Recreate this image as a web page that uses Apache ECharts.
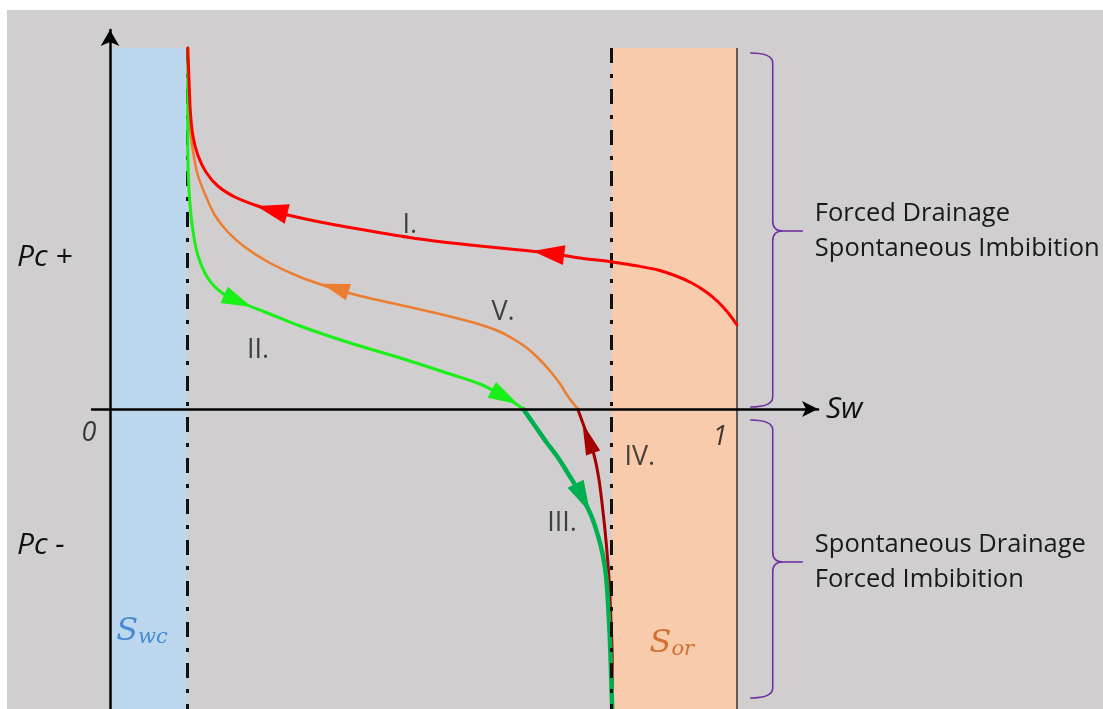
<!DOCTYPE html>
<html>
<head>
<meta charset="utf-8">
<script src="https://cdn.jsdelivr.net/npm/echarts@6/dist/echarts.min.js"></script>
<style>
  html, body { margin: 0; padding: 0; background: #fff; }
  #chart { width: 1103px; height: 709px; }
</style>
</head>
<body>
<div id="chart"></div>
<script>
// Capillary pressure Pc against water saturation Sw: five saturation paths.
// Each path is listed in its direction of travel, as [Sw, Pc] pairs.
const pathI = [[1.0,0.84],[0.986,0.96],[0.970,1.07],[0.951,1.17],[0.928,1.26],[0.903,1.33],[0.874,1.39],[0.842,1.43],[0.801,1.47],[0.750,1.51],[0.700,1.56],[0.654,1.59],[0.574,1.64],[0.494,1.70],[0.415,1.78],[0.335,1.87],[0.271,1.96],[0.231,2.04],[0.199,2.12],[0.172,2.23],[0.153,2.37],[0.140,2.54],[0.132,2.74],[0.128,2.99],[0.126,3.29],[0.124,3.61]];
const pathII = [[0.124,3.61],[0.124,3.09],[0.124,2.59],[0.126,2.19],[0.131,1.84],[0.140,1.54],[0.156,1.31],[0.179,1.16],[0.207,1.07],[0.247,0.97],[0.303,0.83],[0.383,0.66],[0.463,0.51],[0.542,0.35],[0.590,0.25],[0.622,0.15],[0.643,0.07],[0.659,0]];
const pathIII = [[0.659,0],[0.678,-0.17],[0.697,-0.34],[0.715,-0.49],[0.730,-0.64],[0.745,-0.79],[0.758,-0.94],[0.769,-1.09],[0.778,-1.26],[0.786,-1.46],[0.791,-1.66],[0.794,-1.91],[0.797,-2.26],[0.799,-2.61],[0.801,-3.0]];
const pathIV = [[0.801,-2.91],[0.801,-2.51],[0.799,-2.11],[0.796,-1.71],[0.791,-1.31],[0.786,-1.01],[0.780,-0.71],[0.772,-0.46],[0.761,-0.26],[0.746,0]];
const pathV = [[0.746,0],[0.730,0.13],[0.718,0.25],[0.702,0.38],[0.686,0.49],[0.667,0.60],[0.646,0.69],[0.619,0.78],[0.582,0.86],[0.526,0.95],[0.463,1.04],[0.399,1.13],[0.359,1.20],[0.303,1.32],[0.255,1.46],[0.215,1.62],[0.188,1.77],[0.167,1.94],[0.152,2.14],[0.140,2.34],[0.132,2.59],[0.128,2.79],[0.124,2.94]];

// Where the direction arrows sit on each path
const arrowsI = [[0.258,1.99],[0.699,1.56]];
const arrowsII = [[0.204,1.08],[0.630,0.12]];
const arrowsIII = [[0.754,-0.89]];
const arrowsIV = [[0.762,-0.29]];
const arrowsV = [[0.359,1.21]];

// Path names and where they are written
const pathNames = ['I.', 'II.', 'III.', 'IV.', 'V.'];
const pathNamePos = [[0.478,1.84],[0.236,0.59],[0.721,-1.14],[0.845,-0.48],[0.627,0.97]];

// End-point saturations and the extent of the diagram
const SWC = 0.123;      // connate water saturation
const SOR_EDGE = 0.80;  // 1 - Sor
const PC_TOP = 3.61;
const PC_BOTTOM = -3.0;

// Axis tick labels
const tickValues = [0, 1];
const tickLabels = ['0', '1'];

// Side braces: [hook, spine, tip] along Sw; [top, middle, bottom] along Pc
const braceSw = [1.021, 1.057, 1.105];
const braceUpper = [3.56, 1.78, 0.02];
const braceLower = [-0.11, -1.53, -2.89];
const braceTexts = ['Forced Drainage\nSpontaneous Imbibition', 'Spontaneous Drainage\nForced Imbibition'];

const FONT = '"Open Sans", "DejaVu Sans", sans-serif';
const TEXT = '#1a1a1a';

const chart = echarts.init(document.getElementById('chart'), null, { renderer: 'canvas' });

function pathSeries(name, data, color, width, z) {
  return {
    name, type: 'line', data, smooth: 0.3, symbol: 'none', z,
    lineStyle: { color, width, cap: 'round', join: 'round' },
    silent: true, animation: false
  };
}

function arrowSeries(name, data, color, size) {
  return {
    name, type: 'scatter', data: data.map(p => ({ value: p })),
    symbol: 'triangle', symbolSize: size, z: 10,
    itemStyle: { color, opacity: 1 }, silent: true, animation: false
  };
}

const background = [
  { id: 'bg', type: 'rect', z: -100, silent: true, shape: { x: 7, y: 10, width: 1096, height: 699 }, style: { fill: '#d0cece' } },
  { id: 'pcPlus', type: 'text', silent: true, x: 17, y: 257, style: { text: 'Pc +', font: 'italic 30px ' + FONT, fill: '#111', verticalAlign: 'middle' } },
  { id: 'pcMinus', type: 'text', silent: true, x: 17, y: 545, style: { text: 'Pc -', font: 'italic 30px ' + FONT, fill: '#111', verticalAlign: 'middle' } }
];

const option = {
  backgroundColor: '#ffffff',
  animation: false,
  grid: { left: 92, right: 285, top: 30, bottom: 0, containLabel: false },
  xAxis: {
    type: 'value', min: -0.0287, max: 1.1292, z: 20,
    name: 'Sw', nameLocation: 'end', nameGap: 8,
    nameTextStyle: { fontSize: 30, fontStyle: 'italic', color: '#111', fontFamily: FONT },
    axisLine: { onZero: true, symbol: ['none', 'arrow'], symbolSize: [12, 16], lineStyle: { color: '#000', width: 2.5 } },
    axisTick: { show: false }, axisLabel: { show: false }, splitLine: { show: false }
  },
  yAxis: {
    type: 'value', min: -3.0, max: 3.79, z: 20,
    axisLine: { onZero: true, symbol: ['none', 'arrow'], symbolSize: [14, 16], lineStyle: { color: '#000', width: 2.5 } },
    axisTick: { show: false }, axisLabel: { show: false }, splitLine: { show: false }
  },
  graphic: background,
  series: [
    {
      name: 'zones', type: 'scatter', data: [], z: 1, silent: true,
      markArea: {
        silent: true,
        data: [
          [{ coord: [0, PC_BOTTOM], itemStyle: { color: '#bdd7ee', opacity: 1 } }, { coord: [SWC, PC_TOP] }],
          [{ coord: [SOR_EDGE, PC_BOTTOM], itemStyle: { color: '#f8cbad', opacity: 1 } }, { coord: [1, PC_TOP] }]
        ],
        label: { show: false }
      },
      markLine: {
        silent: true, symbol: 'none', label: { show: false }, animation: false,
        data: [
          [{ coord: [SWC, PC_TOP], lineStyle: { color: '#111', width: 3, type: [15, 11, 4, 11] } }, { coord: [SWC, PC_BOTTOM] }],
          [{ coord: [SOR_EDGE, PC_TOP], lineStyle: { color: '#111', width: 3, type: [15, 11, 4, 11] } }, { coord: [SOR_EDGE, PC_BOTTOM] }],
          [{ coord: [1, PC_TOP], lineStyle: { color: '#333', width: 1.5, type: 'solid' } }, { coord: [1, PC_BOTTOM] }]
        ]
      }
    },
    pathSeries('IV', pathIV, '#a50000', 3, 3),
    pathSeries('III', pathIII, '#00b050', 4.5, 4),
    pathSeries('V', pathV, '#ed7d31', 2.5, 5),
    pathSeries('II', pathII, '#18f018', 3, 6),
    pathSeries('I', pathI, '#ff0000', 3, 7),
    arrowSeries('arrows IV', arrowsIV, '#a50000', [15, 32]),
    arrowSeries('arrows III', arrowsIII, '#00b050', [18, 32]),
    arrowSeries('arrows V', arrowsV, '#ed7d31', [17, 28]),
    arrowSeries('arrows II', arrowsII, '#18f018', [18, 30]),
    arrowSeries('arrows I', arrowsI, '#ff0000', [20, 32]),
    {
      name: 'path names', type: 'scatter', symbolSize: 0, z: 11, silent: true,
      data: pathNames.map((n, i) => ({ name: n, value: pathNamePos[i] })),
      label: { show: true, position: 'inside', formatter: '{b}', fontSize: 27, color: TEXT, fontFamily: FONT }
    },
    {
      name: 'ticks', type: 'scatter', symbolSize: 0, z: 11, silent: true, clip: false,
      data: tickValues.map((v, i) => ({ name: tickLabels[i], value: [v, 0], label: { offset: i === 0 ? [-21, 24] : [-17, 28] } })),
      label: {
        show: true, position: 'inside', formatter: '{b}', fontSize: 27, fontStyle: 'italic', color: '#111', fontFamily: FONT
      }
    },
    {
      name: 'saturation limits', type: 'scatter', symbolSize: 0, z: 11, silent: true,
      data: [
        { value: [0.051, -2.19], label: { formatter: '{s|S}{sub|wc}', rich: {
          s: { fontSize: 32, fontStyle: 'italic', color: '#2a78c8', fontFamily: '"DejaVu Serif", serif', verticalAlign: 'bottom', lineHeight: 40 },
          sub: { fontSize: 21, fontStyle: 'italic', color: '#2a78c8', fontFamily: '"DejaVu Serif", serif', verticalAlign: 'bottom', lineHeight: 30 } } } },
        { value: [0.896, -2.31], label: { formatter: '{s|S}{sub|or}', rich: {
          s: { fontSize: 32, fontStyle: 'italic', color: '#c55a11', fontFamily: '"DejaVu Serif", serif', verticalAlign: 'bottom', lineHeight: 40 },
          sub: { fontSize: 21, fontStyle: 'italic', color: '#c55a11', fontFamily: '"DejaVu Serif", serif', verticalAlign: 'bottom', lineHeight: 30 } } } }
      ],
      label: { show: true, position: 'inside' }
    }
  ]
};

chart.setOption(option);

// Point each arrow along its path, using the screen direction of the nearest stretch
function heading(path, pt) {
  const px = path.map(p => chart.convertToPixel({ gridIndex: 0 }, p));
  const q = chart.convertToPixel({ gridIndex: 0 }, pt);
  let best = 0, bd = Infinity;
  for (let i = 0; i < px.length; i++) {
    const d = Math.hypot(px[i][0] - q[0], px[i][1] - q[1]);
    if (d < bd) { bd = d; best = i; }
  }
  const a = px[Math.max(0, best - 1)];
  const b = px[Math.min(px.length - 1, best + 1)];
  const ang = Math.atan2(-(b[1] - a[1]), b[0] - a[0]) * 180 / Math.PI;
  return ang - 90;
}

const arrowSets = [
  ['arrows I', arrowsI, pathI], ['arrows II', arrowsII, pathII], ['arrows III', arrowsIII, pathIII],
  ['arrows IV', arrowsIV, pathIV], ['arrows V', arrowsV, pathV]
];
chart.setOption({
  series: arrowSets.map(([name, pts, path]) => ({
    name, data: pts.map(p => ({ value: p, symbolRotate: heading(path, p) }))
  }))
});

// Curly braces grouping the positive and negative Pc halves, with their captions
function braceParts(key, ys) {
  const [xh, yt] = chart.convertToPixel({ gridIndex: 0 }, [braceSw[0], ys[0]]);
  const [xs, ym] = chart.convertToPixel({ gridIndex: 0 }, [braceSw[1], ys[1]]);
  const [xt, yb] = chart.convertToPixel({ gridIndex: 0 }, [braceSw[2], ys[2]]);
  const r = 10;
  const style = { fill: null, stroke: '#7030a0', lineWidth: 1.6 };
  const curve = (id, x1, y1, cx, cy, x2, y2) => ({ id: key + id, type: 'bezierCurve', silent: true, z: 30,
    shape: { x1, y1, cpx1: cx, cpy1: cy, x2, y2 }, style });
  const line = (id, x1, y1, x2, y2) => ({ id: key + id, type: 'line', silent: true, z: 30,
    shape: { x1, y1, x2, y2 }, style });
  return [
    curve('c1', xh, yt, xs, yt, xs, yt + r),
    line('l1', xs, yt + r, xs, ym - r),
    curve('c2', xs, ym - r, xs, ym, xs + r, ym),
    line('l2', xs + r, ym, xt, ym),
    curve('c3', xs + r, ym, xs, ym, xs, ym + r),
    line('l3', xs, ym + r, xs, yb - r),
    curve('c4', xs, yb - r, xs, yb, xh, yb)
  ];
}
const capUpper = chart.convertToPixel({ gridIndex: 0 }, [braceSw[2], braceUpper[1]]);
const capLower = chart.convertToPixel({ gridIndex: 0 }, [braceSw[2], braceLower[1]]);
chart.setOption({
  graphic: background.concat(braceParts('up', braceUpper), braceParts('low', braceLower), [
    { id: 'capUp', type: 'text', silent: true, x: capUpper[0] + 12, y: capUpper[1], style: { text: braceTexts[0], font: '25.5px ' + FONT, fill: TEXT, verticalAlign: 'middle', lineHeight: 35 } },
    { id: 'capLow', type: 'text', silent: true, x: capLower[0] + 12, y: capLower[1], style: { text: braceTexts[1], font: '25.5px ' + FONT, fill: TEXT, verticalAlign: 'middle', lineHeight: 35 } }
  ])
});
</script>
</body>
</html>
